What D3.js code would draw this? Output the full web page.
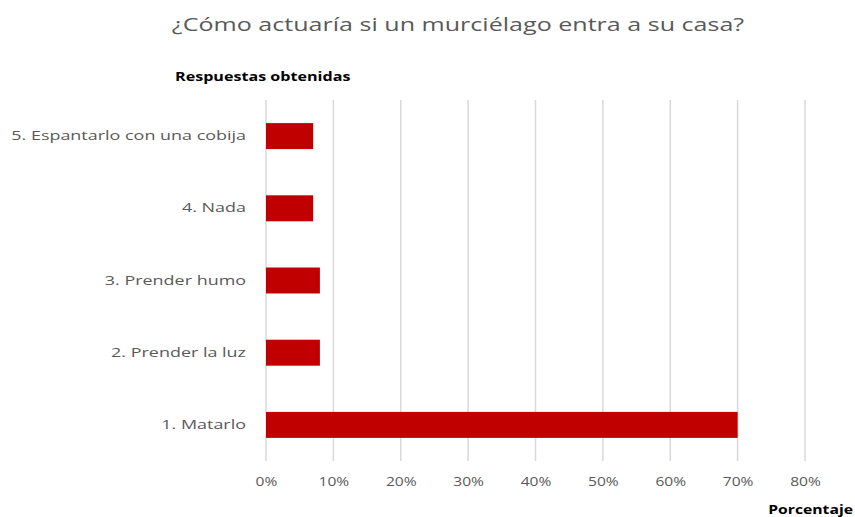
<!DOCTYPE html>
<html>
<head>
<meta charset="utf-8">
<script src="https://cdn.jsdelivr.net/npm/d3@7"></script>
<style>
  body { margin: 0; background: #fff; }
  svg { display: block; }
</style>
</head>
<body>
<div id="chartContainer"></div>
<script>
// chart values
const categories = ["5. Espantarlo con una cobija", "4. Nada", "3. Prender humo", "2. Prender la luz", "1. Matarlo"];
const percentages = [7, 7, 8, 8, 70];
const tickValues = [0, 10, 20, 30, 40, 50, 60, 70, 80];

const chartWidth = 855;
const chartHeight = 517;
const margin = { top: 100, right: 49, bottom: 56, left: 266 };
const width = chartWidth - margin.left - margin.right;
const height = chartHeight - margin.top - margin.bottom;

const font = "'Open Sans', sans-serif";

const svg = d3.select("#chartContainer").append("svg")
  .attr("width", chartWidth)
  .attr("height", chartHeight);

// the picture is stretched sideways, so text gets a horizontal scale
function addText(x, y, sx, anchor, txt) {
  return svg.append("text")
    .attr("transform", `translate(${x}, ${y}) scale(${sx}, 1)`)
    .attr("text-anchor", anchor)
    .style("font-family", font)
    .text(txt);
}

// title
addText(458, 31, 1.32, "middle", "¿Cómo actuaría si un murciélago entra a su casa?")
  .style("font-size", "19px")
  .style("fill", "#595959");

// axis titles
addText(175, 81, 1.24, "start", "Respuestas obtenidas")
  .style("font-weight", "bold")
  .style("font-size", "13px")
  .style("fill", "#000");

addText(853, 514, 1.21, "end", "Porcentaje")
  .style("font-weight", "bold")
  .style("font-size", "13px")
  .style("fill", "#000");

const g = svg.append("g")
  .attr("transform", `translate(${margin.left}, ${margin.top})`);

const xScale = d3.scaleLinear()
  .domain([0, 80])
  .range([0, 539]);

const yScale = d3.scaleBand()
  .domain(categories)
  .range([0, height])
  .paddingInner(0.64)
  .paddingOuter(0.32);

// vertical gridlines
g.selectAll(".grid")
  .data(tickValues)
  .enter().append("line")
  .attr("class", "grid")
  .attr("x1", d => xScale(d))
  .attr("x2", d => xScale(d))
  .attr("y1", 0)
  .attr("y2", height)
  .style("stroke", "#d9d9d9")
  .style("stroke-width", 1.5);

// x axis labels
const xAxis = g.append("g")
  .attr("transform", `translate(0, ${height})`)
  .call(d3.axisBottom(xScale).tickValues(tickValues).tickFormat(d => d + "%").tickSize(0).tickPadding(16));
xAxis.select(".domain").remove();
xAxis.selectAll("text")
  .attr("transform", "scale(1.3, 1)")
  .style("font-family", font)
  .style("font-size", "12px")
  .style("fill", "#595959");

// y axis labels
const ySx = 1.38;
const yAxis = g.append("g")
  .call(d3.axisLeft(yScale).tickSize(0).tickPadding(20));
yAxis.select(".domain").remove();
yAxis.selectAll("text")
  .attr("x", -20 / ySx)
  .attr("transform", `scale(${ySx}, 1)`)
  .style("font-family", font)
  .style("font-size", "13px")
  .style("fill", "#595959");

// bars
g.selectAll(".bar")
  .data(categories)
  .enter().append("rect")
  .attr("class", "bar")
  .attr("x", xScale(0))
  .attr("y", d => yScale(d))
  .attr("width", (d, i) => xScale(percentages[i]) - xScale(0))
  .attr("height", yScale.bandwidth())
  .style("fill", "#c00000");
</script>
</body>
</html>
